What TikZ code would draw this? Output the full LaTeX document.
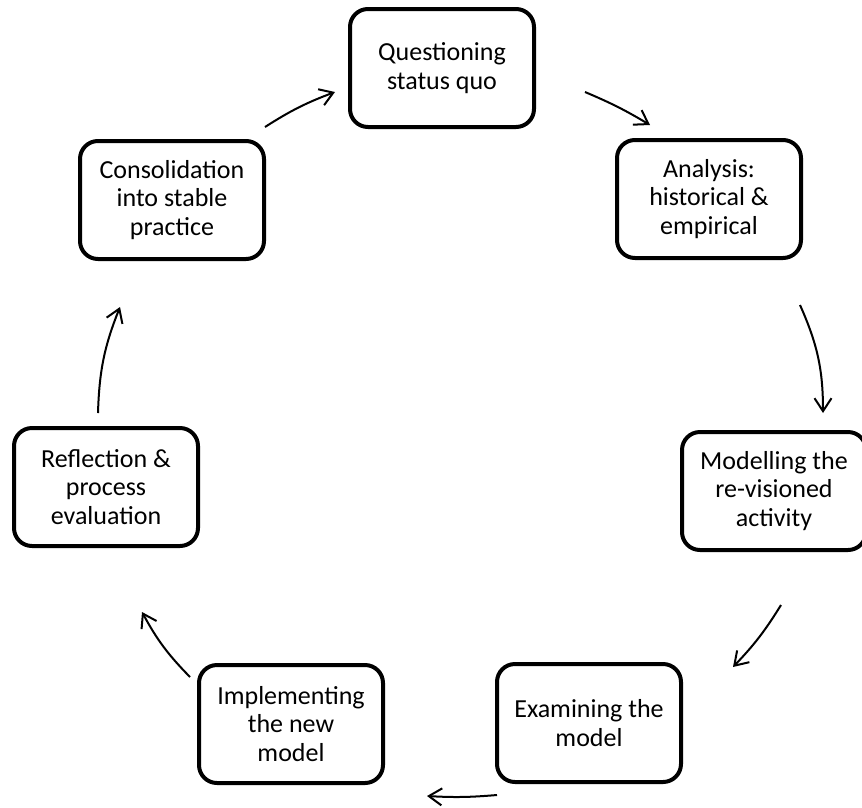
\documentclass[tikz,border=0pt]{standalone}
\usepackage{fontspec}
\setmainfont{Carlito}
\usetikzlibrary{arrows.meta}
\begin{document}
\begin{tikzpicture}[x=1pt,y=-1pt,
  stage/.style={draw=black,line width=4pt,rounded corners=18pt,minimum width=184pt,minimum height=118pt,align=center,inner sep=0pt,font=\fontsize{26}{28.5}\selectfont},
  flow/.style={line width=2pt,-{Straight Barb[length=13pt,width=17pt,line width=2pt]}}]
\useasboundingbox (0,0) rectangle (862,807);
\node[stage] (q) at (442,68) {Questioning\\status quo};
\node[stage] (a) at (709,199) {Analysis:\\historical \&\\empirical};
\node[stage] (m) at (774,491) {Modelling the\\re-visioned\\activity};
\node[stage] (e) at (589,723) {Examining the\\model};
\node[stage] (i) at (291,724) {Implementing\\the new\\model};
\node[stage] (r) at (106,487) {Reflection \&\\process\\evaluation};
\node[stage] (c) at (172,200) {Consolidation\\into stable\\practice};
\coordinate (c1) at (265,127); \coordinate (q1) at (335,92);
\coordinate (q2) at (585,92); \coordinate (a1) at (650,125);
\coordinate (a2) at (800,305); \coordinate (m1) at (823,413);
\coordinate (m2) at (781,605); \coordinate (e1) at (733,667);
\coordinate (e2) at (497,795); \coordinate (i1) at (427,796);
\coordinate (i2) at (190,677); \coordinate (r1) at (142,612);
\coordinate (r2) at (98,413); \coordinate (c2) at (120,307);
\draw[flow] (c1) to[bend left=6] (q1);
\draw[flow] (q2) to[bend left=4] (a1);
\draw[flow] (a2) to[bend left=12] (m1);
\draw[flow] (m2) to[bend left=6] (e1);
\draw[flow] (e2) to[bend left=4] (i1);
\draw[flow] (i2) to[bend left=8] (r1);
\draw[flow] (r2) to[bend left=10] (c2);
\end{tikzpicture}
\end{document}
